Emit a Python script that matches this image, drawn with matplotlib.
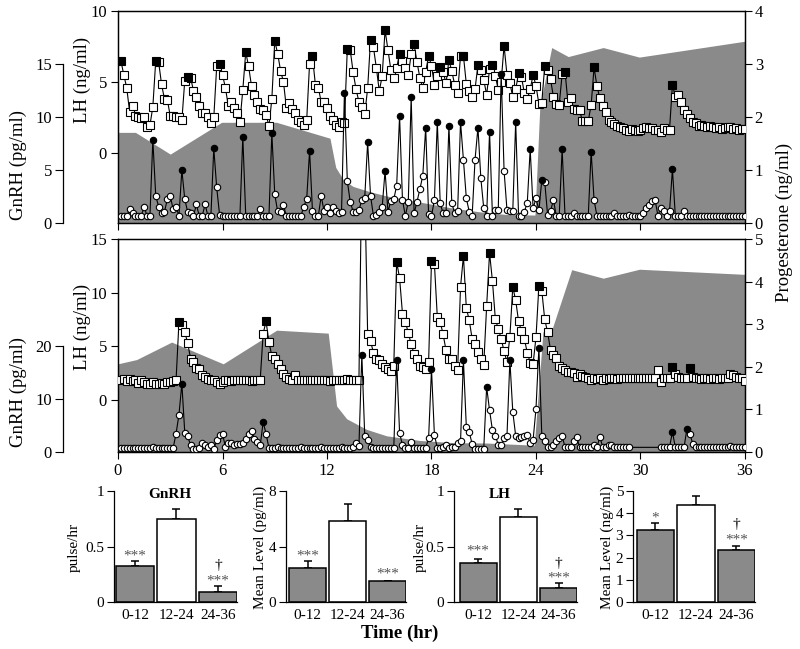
import numpy as np
import matplotlib.pyplot as plt

plt.rcParams['font.family'] = ['Liberation Serif', 'DejaVu Serif']

W, H = 800, 649
GRAY = '#8a8a8a'

# samples every 10 min, first one at 10 min
t = np.arange(1, 217) / 6.0

# ---- upper record ----
top_lh = [6.5, 5.5, 4.6, 2.9, 3.3, 2.6, 2.5, 2.45, 2.5, 1.8,
          1.95, 3.25, 6.5, 6.4, 4.85, 3.8, 3.75, 2.6, 2.6, 2.55,
          2.55, 2.3, 5.1, 5.35, 5.3, 4.4, 3.95, 3.3, 2.85, 2.8,
          2.5, 2.1, 2.5, 6.1, 6.3, 5.5, 4.6, 3.3, 3.6, 3.2,
          2.8, 2.2, 4.45, 7.1, 6.1, 4.7, 4.1, 3.6, 3.1, 3.05,
          2.7, 1.9, 3.8, 7.9, 7.0, 5.8, 5.0, 3.2, 3.5, 3.1,
          2.85, 2.35, 2.2, 2.0, 2.3, 6.3, 6.8, 4.8, 4.6, 3.6,
          3.6, 3.15, 2.6, 2.35, 2.0, 1.85, 2.15, 2.1, 7.35, 7.25,
          5.7, 4.5, 3.6, 3.26, 2.72, 4.55, 7.96, 7.44, 6.0, 4.37,
          5.4, 8.66, 7.25, 5.85, 5.3, 6.0, 7.0, 6.5, 6.0, 5.5,
          6.95, 7.65, 6.4, 5.3, 4.6, 5.7, 6.83, 6.15, 4.8, 5.4,
          6.03, 5.73, 4.9, 6.55, 5.75, 4.8, 4.2, 6.85, 6.85, 4.85,
          4.37, 3.96, 4.5, 6.2, 5.85, 5.15, 4.1, 5.9, 6.2, 5.4,
          4.47, 5.0, 7.56, 5.5, 4.9, 3.96, 4.5, 5.6, 5.35, 4.2,
          3.8, 4.5, 5.5, 4.74, 3.43, 3.55, 6.13, 5.85, 5.2, 3.96,
          3.43, 3.4, 5.54, 5.73, 3.57, 3.85, 3.1, 3.05, 3.0, 2.25,
          2.25, 2.25, 3.38, 6.03, 4.7, 3.85, 3.3, 2.9, 2.32, 2.2,
          2.06, 1.92, 1.85, 1.75, 1.62, 1.57, 1.7, 1.65, 1.55, 1.6,
          1.74, 1.8, 1.75, 1.75, 1.62, 1.6, 1.5, 1.75, 1.6, 1.65,
          4.8, 3.96, 4.1, 3.6, 3.0, 2.75, 2.45, 2.2, 2.1, 1.87,
          2.0, 1.92, 1.85, 1.9, 1.8, 1.75, 1.8, 1.7, 1.75, 1.85,
          1.85, 1.7, 1.75, 1.65, 1.7, 1.7]
top_lh_peaks = [0, 12, 23, 34, 43, 53, 66, 78, 86, 91, 96, 101, 106, 110, 113,
                118, 123, 128, 132, 137, 142, 146, 153, 163, 190]

top_gnrh = [0.65, 0.65, 0.65, 1.3, 0.95, 0.65, 0.65, 0.65, 1.55, 0.65,
            0.65, 7.85, 2.55, 1.55, 0.9, 1.05, 2.25, 2.55, 1.3, 1.55,
            0.65, 5.0, 2.25, 1.05, 0.9, 0.65, 1.75, 0.65, 0.65, 1.75,
            0.65, 0.65, 7.05, 3.35, 0.75, 0.65, 0.65, 0.65, 0.65, 0.65,
            0.65, 0.65, 8.14, 0.7, 0.65, 0.65, 0.65, 0.65, 1.3, 0.65,
            0.65, 0.65, 8.46, 2.7, 1.1, 1.0, 1.7, 0.65, 0.65, 0.65,
            0.65, 0.65, 0.65, 1.55, 2.25, 6.82, 1.1, 0.65, 0.65, 2.55,
            1.1, 1.55, 0.9, 1.55, 1.1, 0.9, 1.0, 12.3, 3.96, 2.0,
            1.07, 1.07, 1.23, 2.17, 2.39, 7.61, 2.58, 0.66, 0.75, 1.0,
            1.48, 4.9, 1.07, 2.07, 2.23, 3.52, 10.1, 2.17, 0.66, 2.0,
            11.9, 0.9, 2.0, 3.2, 4.47, 9.0, 0.82, 0.66, 2.17, 9.56,
            1.86, 0.9, 0.9, 9.18, 1.86, 0.9, 1.13, 9.56, 5.94, 2.33,
            1.07, 0.66, 5.99, 9.0, 4.22, 1.38, 0.66, 8.6, 0.66, 1.23,
            1.23, 14.1, 4.93, 1.23, 1.13, 1.13, 9.56, 0.66, 0.66, 1.07,
            1.93, 6.98, 1.38, 2.33, 1.2, 4.06, 3.9, 0.75, 1.13, 2.17,
            0.66, 0.66, 6.98, 0.66, 0.66, 0.66, 0.95, 0.66, 0.66, 0.66,
            0.66, 0.66, 6.73, 2.17, 0.66, 0.66, 0.66, 0.66, 0.66, 0.66,
            0.95, 0.66, 0.66, 0.66, 0.66, 0.8, 0.66, 0.66, 0.66, 0.66,
            0.9, 1.4, 1.7, 2.05, 2.2, 0.7, 1.4, 1.1, 0.7, 1.1,
            5.07, 0.66, 0.66, 0.66, 1.13, 0.66, 0.66, 0.66, 0.66, 0.66,
            0.66, 0.66, 0.66, 0.66, 0.66, 0.66, 0.66, 0.66, 0.66, 0.66,
            0.66, 0.66, 0.66, 0.66, 0.66, 0.66]
top_gnrh_peaks = [11, 21, 32, 42, 52, 65, 77, 85, 91, 96, 100, 105, 109, 113,
                  117, 123, 127, 131, 136, 141, 145, 152, 162, 190]

top_prog_t = [0, 1.0, 3.0, 5.95, 9.1, 12.17, 12.5, 12.95, 13.5, 14.47, 15.42,
              16.76, 17.91, 19.23, 20.78, 22.3, 23.94, 24.22, 24.9, 25.85,
              27.86, 29.93, 36]
top_prog = [1.71, 1.71, 1.30, 1.90, 1.90, 1.60, 1.05, 0.81, 0.69, 0.59, 0.51,
            0.43, 0.36, 0.28, 0.21, 0.16, 0.15, 2.2, 3.31, 3.14,
            3.31, 3.13, 3.43]

# ---- lower record ----
mid_lh = [1.83, 1.98, 1.74, 1.92, 1.74, 1.83, 1.6, 1.83, 1.7, 1.52,
          1.52, 1.68, 1.52, 1.52, 1.6, 1.52, 1.68, 1.68, 1.75, 1.83,
          7.27, 6.96, 6.34, 5.31, 3.85, 3.54, 2.98, 2.86, 2.36, 2.14,
          1.99, 1.89, 1.83, 1.68, 1.52, 1.68, 1.9, 1.9, 1.75, 1.9,
          1.83, 1.9, 1.9, 1.85, 1.9, 1.8, 1.9, 1.85, 1.9, 6.18,
          7.33, 5.4, 4.1, 3.79, 3.38, 2.86, 2.45, 2.14, 1.99, 1.9,
          2.35, 1.85, 1.85, 1.9, 1.85, 1.85, 1.9, 1.85, 1.85, 1.9,
          1.85, 1.9, 1.8, 1.85, 1.9, 1.85, 1.85, 1.9, 1.95, 1.85,
          1.9, 1.85, 1.85, 22.0, 20.0, 6.18, 5.47, 4.41, 3.85, 3.7,
          3.38, 3.1, 2.92, 2.67, 3.16, 12.86, 11.37, 8.05, 7.27, 6.27,
          5.19, 4.32, 3.79, 3.17, 3.08, 2.92, 3.54, 12.95, 12.7, 7.73,
          7.27, 6.12, 4.63, 3.85, 3.79, 3.17, 2.76, 10.53, 13.42, 8.57,
          7.42, 5.71, 5.25, 4.47, 3.85, 3.29, 8.76, 13.7, 11.06, 7.52,
          6.65, 5.71, 4.54, 3.54, 5.87, 10.53, 9.29, 7.33, 6.4, 5.66,
          4.41, 3.48, 3.38, 5.84, 10.65, 10.18, 7.52, 6.31, 4.66, 4.19,
          3.94, 3.2, 3.01, 2.8, 2.64, 2.64, 2.49, 2.17, 2.39, 2.27,
          2.17, 2.08, 1.86, 2.0, 1.95, 2.0, 1.9, 2.0, 1.95, 2.0,
          2.0, 1.95, 2.0, 2.05, 2.0, 2.0, 2.0, 2.0, 2.0, 2.0,
          2.0, 2.0, 2.0, 2.05, 2.0, 2.8, 1.71, 2.0, 2.0, 2.0,
          3.1, 2.45, 2.15, 2.0, 2.05, 2.05, 3.0, 2.15, 2.0, 2.0,
          1.95, 2.0, 2.05, 1.95, 2.0, 2.0, 1.95, 2.0, 2.0, 2.05,
          2.45, 2.3, 2.15, 2.05, 2.0, 1.8]
mid_lh_peaks = [20, 50, 95, 107, 118, 127, 135, 144, 190, 196]

nan = np.nan
mid_gnrh = [0.75, 0.75, 0.75, 0.75, 0.75, 0.75, 0.75, 0.75, 0.75, 0.75,
            0.75, 0.94, 0.75, 0.75, 0.75, 0.75, 0.75, 0.75, 0.75, 3.46,
            7.04, 12.9, 3.65, 3.02, 1.26, 0.63, 0.63, 0.75, 1.76, 1.26,
            0.94, 1.26, 0.63, 2.2, 3.14, 3.46, 0.94, 1.76, 1.76, 1.3,
            1.5, 1.5, 1.76, 2.52, 3.46, 3.9, 2.52, 1.89, 1.26, 5.66,
            3.46, 0.75, 0.75, 0.75, 0.94, 0.75, 0.75, 0.75, 0.75, 0.75,
            0.75, 0.75, 0.94, 0.75, 0.75, 0.75, 0.75, 0.75, 0.75, 0.94,
            0.75, 0.75, 0.75, 0.75, 0.75, 0.75, 0.94, 0.75, 0.75, 0.75,
            0.94, 1.76, 1.13, 18.4, 3.02, 2.2, 0.94, 0.75, 0.75, 0.75,
            0.75, 0.75, 0.75, 0.75, 0.75, 17.3, 3.65, 1.26, 0.75, 0.75,
            1.89, 0.75, 0.75, 0.75, 0.75, 0.75, 2.64, 15.6, 3.27, 0.75,
            0.75, 0.9, 1.26, 0.75, 0.9, 1.0, 1.76, 2.0, 17.3, 4.72,
            3.77, 1.5, 0.63, 0.63, 0.63, 0.63, 12.26, 7.86, 4.09, 3.02,
            1.39, 1.26, 2.64, 3.02, 17.3, 7.6, 3.06, 2.55, 2.87, 3.06,
            3.2, 1.64, 2.26, 8.2, 19.7, 3.08, 2.0, 0.88, 0.88, 1.38,
            2.0, 2.64, 3.08, 0.88, 0.88, 0.88, 2.0, 2.9, 0.88, 0.88,
            0.88, 0.88, 0.88, 1.38, 0.88, 2.9, 0.88, 0.88, 1.38, 1.38,
            0.88, 0.88, 0.88, 0.88, 0.88, 0.88, nan, nan, nan, nan,
            nan, nan, nan, nan, nan, nan, 0.88, 0.88, 0.88, 0.88,
            3.8, 0.88, 0.88, 0.88, 0.88, 4.4, 3.45, 1.57, 0.88, 0.88,
            0.88, 0.88, 0.88, 0.88, 0.88, 0.88, 0.88, 0.88, 0.88, 0.88,
            1.2, 0.88, 0.88, 0.88, 0.88, 0.88]
mid_gnrh_peaks = [21, 49, 83, 95, 107, 118, 126, 134, 144, 190, 195]

mid_prog_t = [0, 1.07, 3.08, 6.04, 9.11, 12.07, 12.55, 13.13, 14.28, 15.42,
              17.34, 19.23, 21.2, 23.9, 24.4, 24.9, 26.05, 27.86, 29.94, 36]
mid_prog = [2.07, 2.17, 2.58, 2.07, 2.86, 2.79, 1.08, 0.78, 0.53, 0.38,
            0.27, 0.22, 0.21, 0.16, 2.82, 2.86, 4.28, 4.08, 4.29, 4.17]

# ---- summary bars ----
periods = ['0-12', '12-24', '24-36']
gnrh_freq = [0.32, 0.75, 0.09]
gnrh_freq_se = [0.05, 0.085, 0.055]
gnrh_mean = [2.47, 5.84, 1.51]
gnrh_mean_se = [0.48, 1.2, 0.0]
lh_freq = [0.35, 0.77, 0.13]
lh_freq_se = [0.04, 0.07, 0.045]
lh_mean = [3.24, 4.37, 2.34]
lh_mean_se = [0.3, 0.39, 0.2]

assert len(top_lh) == 216 and len(top_gnrh) == 216
assert len(mid_lh) == 216 and len(mid_gnrh) == 216


def frac(l, tp, r, b):
    return [l / W, 1 - b / H, (r - l) / W, (b - tp) / H]


fig = plt.figure(figsize=(W / 100, H / 100), dpi=100)


def series(ax, y, peaks, marker, ms, clip=True):
    y = np.asarray(y, dtype=float)
    ok = ~np.isnan(y)
    pk = np.zeros(len(y), bool)
    pk[peaks] = True
    ax.plot(t[ok], y[ok], '-', color='k', lw=0.8, clip_on=clip, zorder=2)
    ax.plot(t[ok & ~pk], y[ok & ~pk], marker, ls='none', ms=ms, mfc='white',
            mec='k', mew=0.8, clip_on=clip, zorder=3)
    ax.plot(t[pk], y[pk], marker, ls='none', ms=ms, mfc='k', mec='k',
            mew=0.8, clip_on=clip, zorder=4)


def panel(box, lh, lh_pk, gn, gn_pk, pt, pv, lh_lim, lh_ticks, gn_lim,
          gn_top, gn_ticks, p_max, xlabels):
    ax = fig.add_axes(frac(*box))
    axp = ax.twinx()
    axg = ax.twinx()
    axp.set_zorder(0)
    ax.set_zorder(1)
    axg.set_zorder(2)
    ax.patch.set_visible(False)
    axg.patch.set_visible(False)

    axp.fill_between(pt, pv, 0, color=GRAY, lw=0)
    axp.set_ylim(0, p_max)
    axp.set_yticks(range(0, p_max + 1))
    axp.tick_params(axis='y', direction='out', length=5, width=0.8,
                    labelsize=12, pad=2)

    series(ax, lh, lh_pk, 's', 5.2)
    ax.set_xlim(0, 36)
    ax.set_ylim(*lh_lim)
    ax.set_yticks(lh_ticks)
    ax.set_xticks(range(0, 37, 6))
    if not xlabels:
        ax.set_xticklabels([])
    ax.tick_params(direction='out', length=5, width=0.8, labelsize=12, pad=3)

    series(axg, gn, gn_pk, 'o', 4.6)
    axg.set_ylim(*gn_lim)
    axg.set_yticks(gn_ticks)
    for s in ['top', 'bottom', 'right']:
        axg.spines[s].set_visible(False)
    axg.spines['left'].set_visible(True)
    axg.spines['left'].set_position(('axes', (63 - 118) / 627))
    axg.spines['left'].set_bounds(0, gn_top)
    axg.yaxis.tick_left()
    axg.tick_params(axis='y', direction='out', length=6, width=0.8,
                    labelsize=12, pad=2)
    for a in (ax, axp, axg):
        for s in a.spines.values():
            s.set_linewidth(0.9)
    return ax


panel((118, 11, 745, 223), top_lh, top_lh_peaks, top_gnrh, top_gnrh_peaks,
      top_prog_t, top_prog, (-4.93, 10), [0, 5, 10], (0, 20.0), 15,
      [0, 5, 10, 15], 4, False)
panel((118, 239, 745, 452), mid_lh, mid_lh_peaks, mid_gnrh, mid_gnrh_peaks,
      mid_prog_t, mid_prog, (-4.85, 15), [0, 5, 10, 15], (0, 40.2), 20,
      [0, 10, 20], 5, True)

lab = dict(rotation=90, ha='center', va='center', fontsize=13.5)
fig.text(18 / W, 1 - 165 / H, 'GnRH (pg/ml)', **lab)
fig.text(82 / W, 1 - 80 / H, 'LH (ng/ml)', **lab)
fig.text(82 / W, 1 - 327 / H, 'LH (ng/ml)', **lab)
fig.text(18 / W, 1 - 392 / H, 'GnRH (pg/ml)', **lab)
fig.text(784 / W, 1 - 222 / H, 'Progesterone (ng/ml)', **lab)
fig.text(400 / W, 1 - 633 / H, 'Time (hr)', ha='center', va='center',
         fontsize=13.5, fontweight='bold')


def bars(box, xl, vals, errs, ymax, yticks, yticklabels, ylabel, ylx,
         marks, title=None, tx=0.45):
    ax = fig.add_axes(frac(*box))
    x = np.arange(3)
    ax.bar(x, vals, width=0.92, color=[GRAY, 'white', GRAY], edgecolor='k',
           lw=1.1, zorder=2)
    ax.errorbar(x, vals, yerr=[np.zeros(3), errs], fmt='none', ecolor='k',
                elinewidth=1.1, capsize=3, capthick=1.1, zorder=1)
    ax.set_xlim(xl, 2.46)
    ax.set_ylim(0, ymax)
    ax.set_yticks(yticks)
    ax.set_yticklabels(yticklabels)
    ax.set_xticks(x)
    ax.set_xticklabels(periods)
    ax.tick_params(axis='x', length=0, labelsize=11, pad=5)
    ax.tick_params(axis='y', direction='out', length=5, width=0.8,
                   labelsize=11, pad=2)
    for s in ['top', 'right']:
        ax.spines[s].set_visible(False)
    for s in ['left', 'bottom']:
        ax.spines[s].set_linewidth(0.9)
    fig.text(ylx / W, 1 - 547 / H, ylabel, rotation=90, ha='center',
             va='center', fontsize=11)
    for i, yv, txt in marks:
        dag = txt == '\u2020'
        ax.text(i, yv, txt, ha='center', va='center',
                fontsize=11,
                color='k' if dag else '#555555')
    if title:
        ax.text(tx, 0.965, title, transform=ax.transAxes, ha='center',
                va='center', fontsize=11, fontweight='bold')


bars((114, 491, 237, 602), -0.506, gnrh_freq, gnrh_freq_se, 1, [0, 0.5, 1],
     ['0', '0.5', '1'], 'pulse/hr', 74,
     [(0, 0.41, '***'), (2, 0.19, '***'), (2, 0.325, '\u2020')],
     'GnRH', 0.455)
bars((286, 491, 406, 602), -0.54, gnrh_mean, gnrh_mean_se, 8, [0, 4, 8],
     ['0', '4', '8'], 'Mean Level (pg/ml)', 260,
     [(0, 3.3, '***'), (2, 2.0, '***')])
bars((454, 491, 577, 602), -0.6, lh_freq, lh_freq_se, 1, [0, 0.5, 1],
     ['0', '0.5', '1'], 'pulse/hr', 420,
     [(0, 0.46, '***'), (2, 0.215, '***'), (2, 0.35, '\u2020')],
     'LH', 0.374)
bars((633, 491, 755, 602), -0.556, lh_mean, lh_mean_se, 5, range(6),
     [str(v) for v in range(6)], 'Mean Level (ng/ml)', 607,
     [(0, 3.8, '*'), (2, 2.8, '***'), (2, 3.5, '\u2020')])

fig.savefig('out.png', dpi=100)
